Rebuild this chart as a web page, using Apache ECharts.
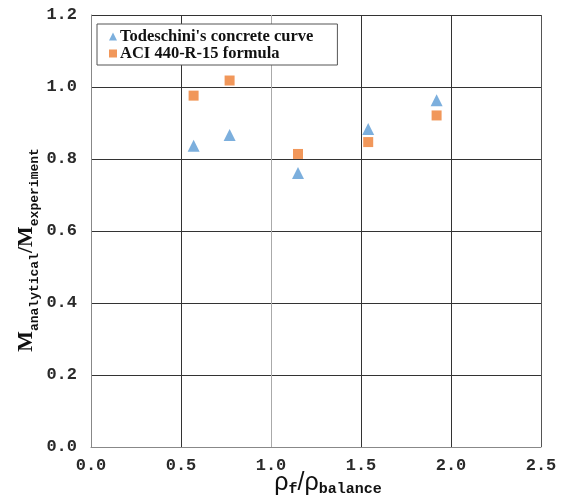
<!DOCTYPE html>
<html>
<head>
<meta charset="utf-8">
<script src="https://cdn.jsdelivr.net/npm/echarts@6/dist/echarts.min.js"></script>
<style>
  html, body { margin: 0; padding: 0; background: #fff; }
  #chart { width: 563px; height: 495px; }
</style>
</head>
<body>
<div id="chart"></div>
<script>
// Reinforcement ratio (rho_f / rho_balance) for each specimen
const ratio = [0.57, 0.77, 1.15, 1.54, 1.92];
// Moment ratio M_analytical / M_experiment
const todeschini = [0.837, 0.867, 0.761, 0.883, 0.963];
const aci440 = [0.976, 1.018, 0.814, 0.847, 0.921];
const seriesNames = ["Todeschini's concrete curve", 'ACI 440-R-15 formula'];

const toPairs = (xs, ys) => xs.map((x, i) => [x, ys[i]]);

const monoTick = {
  fontFamily: 'Liberation Mono',
  fontWeight: 'bold',
  fontSize: 17,
  color: '#2a2a2a'
};

const chart = echarts.init(document.getElementById('chart'));
chart.setOption({
  animation: false,
  backgroundColor: '#fff',
  grid: { left: 91, top: 15, right: 22, bottom: 48, containLabel: false },
  legend: {
    orient: 'vertical',
    left: 97,
    top: 24,
    padding: [4, 24, 3, 12],
    itemGap: 0,
    itemWidth: 8,
    itemHeight: 8,
    borderColor: '#555',
    borderWidth: 1,
    backgroundColor: '#fff',
    textStyle: {
      fontFamily: 'Liberation Serif',
      fontWeight: 'bold',
      fontSize: 16.5,
      color: '#111',
      padding: [0, 0, 0, -2],
      lineHeight: 16
    },
    data: [
      { name: seriesNames[0], icon: 'triangle' },
      { name: seriesNames[1], icon: 'rect' }
    ]
  },
  xAxis: {
    type: 'value',
    min: 0,
    max: 2.5,
    interval: 0.5,
    axisLine: { show: true, lineStyle: { color: '#888', width: 1 } },
    axisTick: { show: false },
    axisLabel: Object.assign({ margin: 10, formatter: v => v.toFixed(1) }, monoTick),
    splitLine: {
      show: true,
      lineStyle: { color: ['#888', '#333', '#aaa', '#333', '#333', '#555'], width: 1 }
    }
  },
  yAxis: {
    type: 'value',
    min: 0,
    max: 1.2,
    interval: 0.2,
    axisLine: { show: true, lineStyle: { color: '#888', width: 1 } },
    axisTick: { show: false },
    axisLabel: Object.assign({ margin: 14, formatter: v => v.toFixed(1) }, monoTick),
    splitLine: { show: true, lineStyle: { color: '#333', width: 1 } }
  },
  series: [
    {
      name: seriesNames[0],
      type: 'scatter',
      symbol: 'triangle',
      symbolSize: 12,
      itemStyle: { color: '#5B9BD5' },
      data: toPairs(ratio, todeschini)
    },
    {
      name: seriesNames[1],
      type: 'scatter',
      symbol: 'rect',
      symbolSize: 10,
      itemStyle: { color: '#ED7D31' },
      data: toPairs(ratio, aci440)
    }
  ],
  graphic: [
    {
      type: 'text',
      x: 28,
      y: 250,
      rotation: Math.PI / 2,
      style: {
        text: '{m|M}{s|analytical}{m|/M}{s|experiment}',
        align: 'center',
        verticalAlign: 'middle',
        rich: {
          m: { fontFamily: 'Liberation Serif', fontWeight: 'bold', fontSize: 22, fill: '#111', lineHeight: 26, verticalAlign: 'top' },
          s: { fontFamily: 'Liberation Mono', fontWeight: 'bold', fontSize: 13, fill: '#111', lineHeight: 26, verticalAlign: 'bottom' }
        }
      }
    },
    {
      type: 'text',
      x: 328,
      y: 484,
      style: {
        text: '{m|ρ}{s|f}{m|/ρ}{s|balance}',
        align: 'center',
        verticalAlign: 'middle',
        rich: {
          m: { fontFamily: 'Liberation Sans', fontSize: 25, fill: '#111', lineHeight: 26, verticalAlign: 'top' },
          s: { fontFamily: 'Liberation Mono', fontWeight: 'bold', fontSize: 15, fill: '#111', lineHeight: 26, verticalAlign: 'bottom' }
        }
      }
    }
  ]
});
</script>
</body>
</html>
